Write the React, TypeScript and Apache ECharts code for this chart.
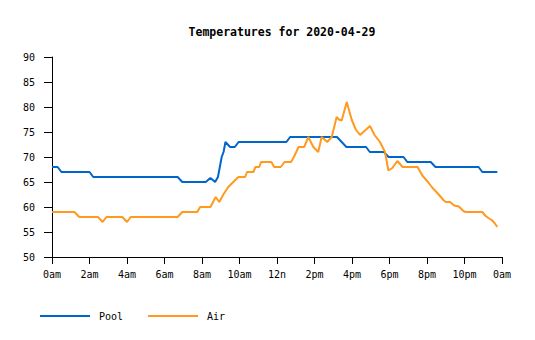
import React, { useEffect, useRef } from "react";
import * as echarts from "echarts";

const titleText = "Temperatures for 2020-04-29";
const tickLabels = ["0am", "2am", "4am", "6am", "8am", "10am", "12n", "2pm", "4pm", "6pm", "8pm", "10pm", "0am"];

const poolHours = [0, 0.3, 0.5, 2.0, 2.2, 6.7, 6.95, 8.2, 8.45, 8.7, 8.85, 8.95, 9.05, 9.15, 9.25, 9.5, 9.75, 9.95, 12.5, 12.7, 15.2, 15.45, 15.7, 16.75, 16.95, 17.7, 17.95, 18.75, 18.95, 20.2, 20.45, 22.75, 22.95, 23.75];
const poolTemps = [68, 68, 67, 67, 66, 66, 65, 65, 65.8, 65, 66, 68, 70, 71, 73, 72, 72, 73, 73, 74, 74, 73, 72, 72, 71, 71, 70, 70, 69, 69, 68, 68, 67, 67];

const airHours = [0, 1.2, 1.45, 2.45, 2.7, 2.9, 3.75, 4.0, 4.2, 6.7, 6.95, 7.75, 7.9, 8.45, 8.73, 8.92, 9.14, 9.4, 9.67, 9.94, 10.3, 10.4, 10.74, 10.85, 11.05, 11.15, 11.7, 11.85, 12.2, 12.4, 12.75, 12.9, 13.15, 13.45, 13.67, 13.94, 14.2, 14.38, 14.68, 14.92, 15.18, 15.3, 15.45, 15.72, 15.98, 16.2, 16.43, 16.96, 17.2, 17.49, 17.76, 17.94, 18.15, 18.42, 18.7, 19.5, 19.75, 20.05, 20.3, 20.6, 20.87, 21.0, 21.23, 21.45, 21.7, 21.94, 22.05, 22.95, 23.1, 23.27, 23.45, 23.6, 23.75];
const airTemps = [59, 59, 58, 58, 57, 58, 58, 57, 58, 58, 59, 59, 60, 60, 62, 61, 62.5, 64, 65, 66, 66, 67, 67, 68, 68, 69, 69, 68, 68, 69, 69, 70, 72, 72, 74, 72, 71, 74, 73, 74, 78, 77.5, 77.3, 81, 77.5, 75.5, 74.4, 76.2, 74.4, 73, 71, 67.3, 67.8, 69.2, 68, 68, 66.3, 65, 63.8, 62.6, 61.4, 61, 61, 60.3, 60.1, 59.2, 59, 59, 58.3, 57.8, 57.4, 56.8, 56];

const FONT = "'DejaVu Sans Mono', monospace";

export default function App() {
  const ref = useRef<HTMLDivElement>(null);
  useEffect(() => {
    if (!ref.current) return;
    const chart = echarts.init(ref.current, null, { renderer: "svg" });
    const pool = poolHours.map((h, i) => [h, poolTemps[i]]);
    const air = airHours.map((h, i) => [h, airTemps[i]]);
    chart.setOption({
      animation: false,
      backgroundColor: "#ffffff",
      title: {
        text: titleText,
        left: 277,
        top: 21,
        textAlign: "center",
        textStyle: { fontFamily: FONT, fontSize: 11.5, fontWeight: "bold", color: "#000" },
      },
      grid: { left: 52, right: 33, top: 57, bottom: 83, containLabel: false },
      legend: {
        left: 40,
        top: 311,
        padding: 0,
        itemWidth: 50,
        itemHeight: 2,
        itemGap: 25,
        icon: "rect",
        textStyle: { fontFamily: FONT, fontSize: 10, color: "#000", padding: [3, 0, 0, 4] },
        data: ["Pool", "Air"],
      },
      xAxis: {
        type: "value",
        min: 0,
        max: 24,
        interval: 2,
        splitLine: { show: false },
        axisLine: { show: true, onZero: false, lineStyle: { color: "#000", width: 1 } },
        axisTick: { show: true, length: 7, lineStyle: { color: "#000" } },
        axisLabel: {
          margin: 12,
          fontFamily: FONT,
          fontSize: 10,
          color: "#000",
          formatter: (v: number) => tickLabels[Math.round(v / 2)] ?? "",
        },
      },
      yAxis: {
        type: "value",
        min: 50,
        max: 90,
        interval: 5,
        splitLine: { show: false },
        axisLine: { show: true, lineStyle: { color: "#000", width: 1 } },
        axisTick: { show: true, length: 8, lineStyle: { color: "#000" } },
        axisLabel: { margin: 17, fontFamily: FONT, fontSize: 10, color: "#000" },
      },
      series: [
        {
          name: "Pool",
          type: "line",
          data: pool,
          showSymbol: false,
          symbol: "none",
          color: "#0066cc",
          lineStyle: { color: "#0066cc", width: 2 },
        },
        {
          name: "Air",
          type: "line",
          data: air,
          showSymbol: false,
          symbol: "none",
          color: "#ff9a1f",
          lineStyle: { color: "#ff9a1f", width: 2 },
        },
      ],
    });
    return () => chart.dispose();
  }, []);
  return <div ref={ref} style={{ position: "absolute", left: 0, top: 0, width: 535, height: 340 }} />;
}
